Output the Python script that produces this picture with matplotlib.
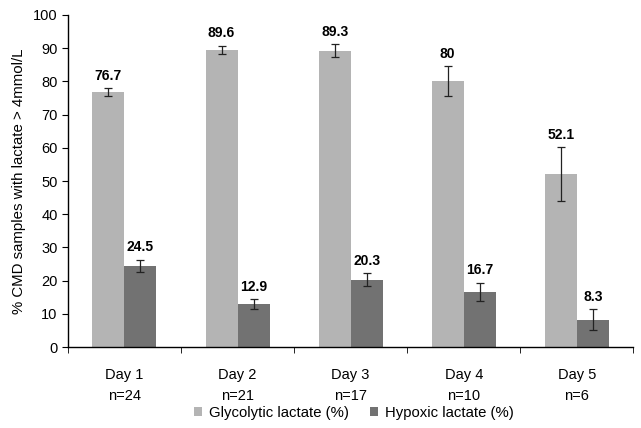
import matplotlib
matplotlib.use('Agg')
import matplotlib.pyplot as plt
import numpy as np

plt.rcParams['font.family'] = ['Liberation Sans', 'DejaVu Sans']

days = ['Day 1', 'Day 2', 'Day 3', 'Day 4', 'Day 5']
counts = ['n=24', 'n=21', 'n=17', 'n=10', 'n=6']
glycolytic = [76.7, 89.6, 89.3, 80, 52.1]
glycolytic_err = [1.2, 1.2, 2.0, 4.5, 8.0]
hypoxic = [24.5, 12.9, 20.3, 16.7, 8.3]
hypoxic_err = [1.8, 1.5, 2.0, 2.7, 3.2]
value_labels_g = ['76.7', '89.6', '89.3', '80', '52.1']
value_labels_h = ['24.5', '12.9', '20.3', '16.7', '8.3']

fig = plt.figure(figsize=(6.41, 4.28), dpi=100)
ax = fig.add_axes([0.106, 0.189, 0.882, 0.776])

x = np.arange(len(days))
w = 0.283
light = '#b4b4b4'
dark = '#727272'
ekw = dict(ecolor='#222222', elinewidth=0.9, capsize=3, capthick=0.9)

ax.bar(x - w / 2, glycolytic, w, color=light, yerr=glycolytic_err,
       error_kw=ekw, label='Glycolytic lactate (%)')
ax.bar(x + w / 2, hypoxic, w, color=dark, yerr=hypoxic_err,
       error_kw=ekw, label='Hypoxic lactate (%)')

for i in range(len(days)):
    ax.text(x[i] - w / 2, glycolytic[i] + glycolytic_err[i] + 1.6, value_labels_g[i],
            ha='center', va='bottom', fontsize=10, fontweight='bold')
    ax.text(x[i] + w / 2, hypoxic[i] + hypoxic_err[i] + 1.6, value_labels_h[i],
            ha='center', va='bottom', fontsize=10, fontweight='bold')

ax.set_xlim(-0.5, len(days) - 0.5)
ax.set_ylim(0, 100)
ax.set_yticks(range(0, 101, 10))
ax.set_xticks(x)
ax.set_xticklabels([d + '\n' + n for d, n in zip(days, counts)], linespacing=1.6)
ax.set_xticks(np.arange(-0.5, len(days)), minor=True)
ax.tick_params(axis='x', which='major', length=0, pad=15, labelsize=10.5)
ax.tick_params(axis='x', which='minor', length=4, direction='out')
ax.tick_params(axis='y', length=4, direction='out', labelsize=10.5)

for s in ['top', 'right']:
    ax.spines[s].set_visible(False)
for s in ['left', 'bottom']:
    ax.spines[s].set_color('black')
    ax.spines[s].set_linewidth(1.0)

ax.set_ylabel('% CMD samples with lactate > 4mmol/L', fontsize=10.8, labelpad=5)

fig.legend(loc='center', bbox_to_anchor=(0.552, 1 - 413 / 428), ncol=2, frameon=False,
           fontsize=10.7, handlelength=0.55, handleheight=0.55, columnspacing=1.4,
           handletextpad=0.5)

fig.savefig('out.png', dpi=100)
